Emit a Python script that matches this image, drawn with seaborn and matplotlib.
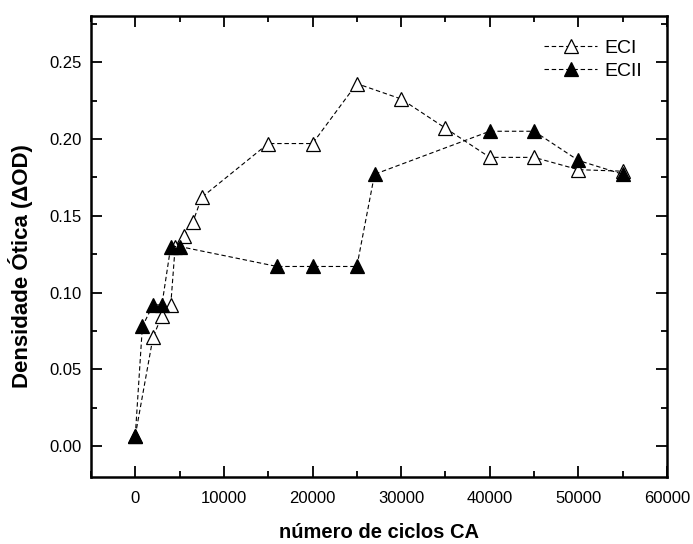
import matplotlib
matplotlib.use("Agg")
import matplotlib.pyplot as plt
from matplotlib.ticker import MultipleLocator
import seaborn as sns
import pandas as pd

# ---- data ----
eci_x = [0, 2000, 3000, 4000, 4500, 5500, 6500, 7500, 15000, 20000, 25000,
         30000, 35000, 40000, 45000, 50000, 55000]
eci_y = [0.007, 0.071, 0.085, 0.092, 0.130, 0.137, 0.146, 0.162, 0.197, 0.197,
         0.236, 0.226, 0.207, 0.188, 0.188, 0.180, 0.179]

ecii_x = [0, 800, 2000, 3000, 4000, 5000, 16000, 20000, 25000, 27000,
          40000, 45000, 50000, 55000]
ecii_y = [0.007, 0.078, 0.092, 0.092, 0.130, 0.130, 0.117, 0.117, 0.117, 0.177,
          0.205, 0.205, 0.186, 0.177]

series_names = ["ECI", "ECII"]
x_label = "número de ciclos CA"
y_label = "Densidade Ótica (ΔOD)"
y_tick_vals = [0.0, 0.05, 0.10, 0.15, 0.20, 0.25]
y_tick_labels = ["0.00", "0.05", "0.10", "0.15", "0.20", "0.25"]

sns.set_theme(style="ticks")
plt.rcParams["font.family"] = ["Liberation Sans", "DejaVu Sans"]
plt.rcParams["text.color"] = "black"
plt.rcParams["axes.labelcolor"] = "black"
plt.rcParams["xtick.color"] = "black"
plt.rcParams["ytick.color"] = "black"

fig = plt.figure(figsize=(6.93, 5.44), dpi=100)
ax = fig.add_axes([91 / 693, 1 - 477 / 544, (667 - 91) / 693, (477 - 16) / 544])

df_eci = pd.DataFrame({"x": eci_x, "y": eci_y})
df_ecii = pd.DataFrame({"x": ecii_x, "y": ecii_y})

common = dict(color="black", linestyle=(0, (4, 2.5)), linewidth=0.8,
              marker="^", markersize=10, markeredgecolor="black",
              markeredgewidth=0.9)
sns.lineplot(data=df_eci, x="x", y="y", ax=ax, label=series_names[0],
             markerfacecolor="white", **common)
sns.lineplot(data=df_ecii, x="x", y="y", ax=ax, label=series_names[1],
             markerfacecolor="black", **common)

ax.set_xlim(-5000, 60000)
ax.set_ylim(-0.02, 0.28)
ax.xaxis.set_major_locator(MultipleLocator(10000))
ax.xaxis.set_minor_locator(MultipleLocator(5000))
ax.yaxis.set_minor_locator(MultipleLocator(0.025))
ax.set_yticks(y_tick_vals)
ax.set_yticklabels(y_tick_labels)

ax.tick_params(which="both", direction="in", top=True, right=True,
               labelsize=12, width=1.3, colors="black")
ax.tick_params(axis="x", pad=10)
ax.tick_params(axis="y", pad=6.5)
ax.tick_params(which="major", length=8)
ax.tick_params(which="minor", length=4.5)
for s in ax.spines.values():
    s.set_linewidth(1.8)
    s.set_color("black")

ax.set_xlabel(x_label, fontsize=14.5, fontweight="bold", labelpad=12)
ax.set_ylabel(y_label, fontsize=16, fontweight="bold")
ax.yaxis.set_label_coords(-0.100, 0.458)

leg = ax.legend(loc="upper right", bbox_to_anchor=(0.971, 0.967),
                borderaxespad=0, frameon=False, fontsize=14, handlelength=2.7,
                handletextpad=0.4, labelspacing=0.3, numpoints=1)

fig.savefig("out.png", dpi=100)
